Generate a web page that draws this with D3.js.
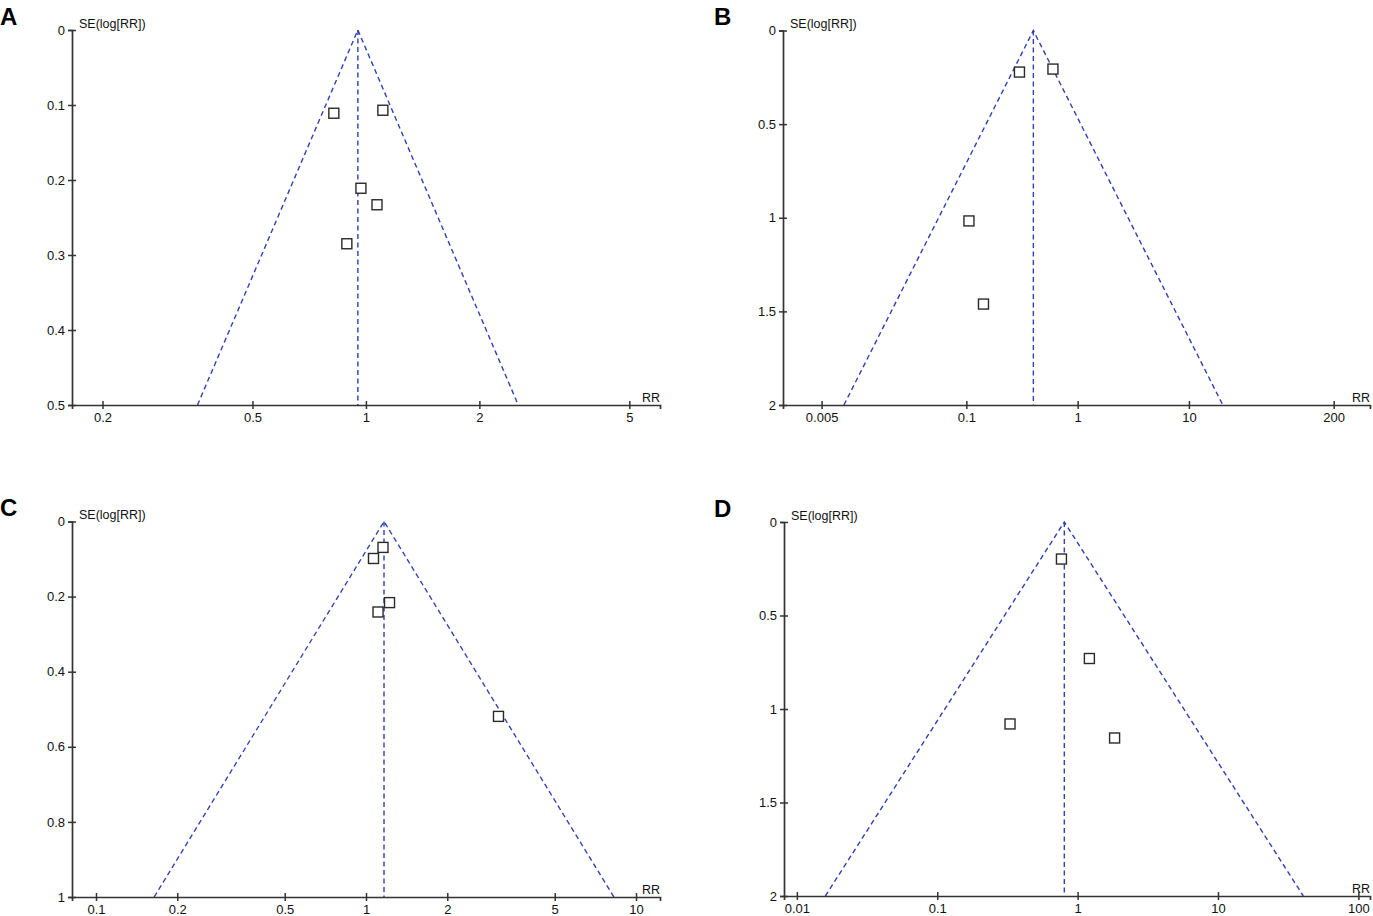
<!DOCTYPE html>
<html>
<head>
<meta charset="utf-8">
<script src="https://cdn.jsdelivr.net/npm/d3@7"></script>
<style>
body { margin: 0; background: #fff; }
svg { display: block; font-family: "Liberation Sans", Arial, sans-serif; }
</style>
</head>
<body>
<div></div>
<script>
// study points per panel: risk ratio and standard error of log(RR)
var rrA = [0.822, 1.109, 0.970, 1.070, 0.890];
var seA = [0.111, 0.107, 0.211, 0.233, 0.285];
var rrB = [0.300, 0.600, 0.1055, 0.1425];
var seB = [0.222, 0.206, 1.017, 1.461];
var rrC = [1.156, 1.066, 1.222, 1.108, 3.095];
var seC = [0.069, 0.0985, 0.216, 0.241, 0.519];
var rrD = [0.767, 1.213, 0.330, 1.834];
var seD = [0.198, 0.730, 1.080, 1.155];

// pooled estimates and funnel depth
var pooled = [0.952, 0.40, 1.166, 0.804];
var seMax = [0.5, 2, 1, 2];

// tick labels
var xTicksA = [0.2, 0.5, 1, 2, 5];
var xTicksB = [0.005, 0.1, 1, 10, 200];
var xTicksC = [0.1, 0.2, 0.5, 1, 2, 5, 10];
var xTicksD = [0.01, 0.1, 1, 10, 100];
var yTicksA = [0, 0.1, 0.2, 0.3, 0.4, 0.5];
var yTicksB = [0, 0.5, 1, 1.5, 2];
var yTicksC = [0, 0.2, 0.4, 0.6, 0.8, 1];
var yTicksD = [0, 0.5, 1, 1.5, 2];
var letters = ["A", "B", "C", "D"];

var w = 1373, h = 916;
var svg = d3.select("div").append("svg").attr("width", w).attr("height", h);

var panels = [
  {rr: rrA, se: seA, xt: xTicksA, yt: yTicksA, xd: [0.166, 6.03], box: [72, 660, 30, 405], lx: 0, ly: 24.5},
  {rr: rrB, se: seB, xt: xTicksB, yt: yTicksB, xd: [0.00225, 424], box: [783, 1370, 30.5, 405], lx: 714, ly: 24.5},
  {rr: rrC, se: seC, xt: xTicksC, yt: yTicksC, xd: [0.0815, 12.27], box: [72, 660, 521.5, 897], lx: 0, ly: 516},
  {rr: rrD, se: seD, xt: xTicksD, yt: yTicksD, xd: [0.0081, 121], box: [784, 1370, 522, 896], lx: 714, ly: 516.5}
];

var axisColor = "#333";
var blue = "#2f3fb5";
var font = "'Liberation Sans', Arial, sans-serif";

panels.forEach(function(p, i) {
  var x = d3.scaleLog().domain(p.xd).range([p.box[0], p.box[1]]);
  var y = d3.scaleLinear().domain([0, seMax[i]]).range([p.box[2], p.box[3]]);
  var g = svg.append("g");

  // funnel: pooled +/- 1.96 * SE
  var lp = Math.log(pooled[i]);
  var lo = Math.exp(lp - 1.96 * seMax[i]);
  var hi = Math.exp(lp + 1.96 * seMax[i]);
  var line = d3.line().x(function(d) { return x(d[0]); }).y(function(d) { return y(d[1]); });
  g.append("path")
    .attr("d", line([[lo, seMax[i]], [pooled[i], 0], [hi, seMax[i]]]))
    .attr("fill", "none").attr("stroke", blue).attr("stroke-width", 1.4)
    .attr("stroke-dasharray", "5,3.5");
  g.append("path")
    .attr("d", line([[pooled[i], 0], [pooled[i], seMax[i]]]))
    .attr("fill", "none").attr("stroke", blue).attr("stroke-width", 1.4)
    .attr("stroke-dasharray", "5,3.5");

  // x axis
  var xa = g.append("g")
    .attr("transform", "translate(0," + p.box[3] + ")")
    .call(d3.axisBottom(x).tickValues(p.xt).tickFormat(function(d) { return d; })
      .tickSizeOuter(0).tickSize(4).tickPadding(4));
  xa.selectAll(".tick line").attr("y1", -4).attr("y2", 4);

  // y axis
  var ya = g.append("g")
    .attr("transform", "translate(" + p.box[0] + ",0)")
    .call(d3.axisLeft(y).tickValues(p.yt).tickFormat(function(d) { return d; })
      .tickSizeOuter(0).tickSize(4).tickPadding(3));
  ya.selectAll(".tick line").attr("x1", -4).attr("x2", 4);

  [xa, ya].forEach(function(a) {
    a.attr("font-family", font).attr("font-size", 13);
    a.select(".domain").attr("stroke", axisColor).attr("stroke-width", 1.7);
    a.selectAll(".tick line").attr("stroke", axisColor).attr("stroke-width", 1.5);
    a.selectAll(".tick text").attr("fill", "#111");
  });

  g.append("text").attr("x", p.box[0] + 7).attr("y", p.box[2] - 2.5)
    .style("font-size", "12.5px").attr("fill", "#111").text("SE(log[RR])");
  g.append("text").attr("x", p.box[1]).attr("y", p.box[3] - 3.5)
    .attr("text-anchor", "end").style("font-size", "12.5px").attr("fill", "#111").text("RR");

  // study squares
  var s = 10;
  g.selectAll("rect").data(p.rr).enter().append("rect")
    .attr("x", function(d) { return x(d) - s / 2; })
    .attr("y", function(d, j) { return y(p.se[j]) - s / 2; })
    .attr("width", s).attr("height", s)
    .attr("fill", "#fff").attr("stroke", "#2a2a2a").attr("stroke-width", 1.4);

  svg.append("text").attr("x", p.lx).attr("y", p.ly)
    .style("font-size", "24px").style("font-weight", "bold").text(letters[i]);
});
</script>
</body>
</html>
